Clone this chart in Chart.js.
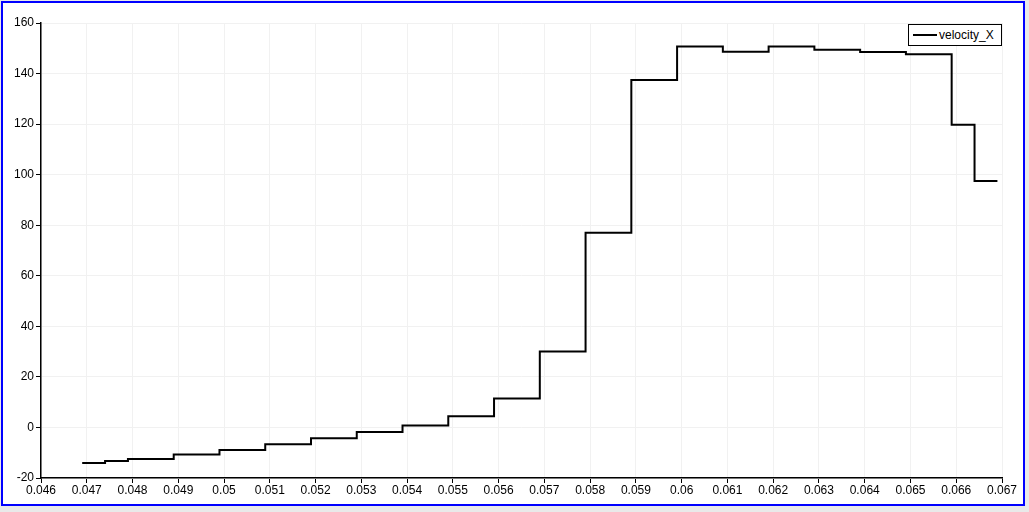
<!DOCTYPE html>
<html>
<head>
<meta charset="utf-8">
<script src="https://cdn.jsdelivr.net/npm/chart.js@4.4.1/dist/chart.umd.min.js"></script>
<style>
  html, body { margin: 0; padding: 0; }
  body { width: 1029px; height: 512px; background: #e9e9e9; position: relative; overflow: hidden; }
  #frame { position: absolute; left: 1px; top: 1px; width: 1020px; height: 501px; border: 2px solid #0000ff; background: #fff; }
  #wrap { position: absolute; left: 0; top: 0; width: 1029px; height: 512px; }
  #legend { position: absolute; left: 908px; top: 24px; width: 92px; height: 20px; border: 1px solid #000; background: #fff;
            font: 12px "Liberation Sans", Arial, sans-serif; color: #000; }
  #legend .swatch { position: absolute; left: 4px; top: 9px; width: 24px; height: 2px; background: #000; }
  #legend .txt { position: absolute; left: 30px; top: 3px; }
</style>
</head>
<body>
<div id="frame"></div>
<div id="wrap"><canvas id="myVelocityChart" width="1029" height="512"></canvas></div>
<div id="legend"><span class="swatch"></span><span class="txt" id="legendText"></span></div>
<script>
// data
const seriesLabel = 'velocity_X';
const stepX = [0.0469, 0.0474, 0.0479, 0.0489, 0.0499, 0.0509, 0.0519, 0.0529, 0.0539, 0.0549, 0.0559, 0.0569,
               0.0579, 0.0589, 0.0599, 0.0609, 0.0619, 0.0629, 0.0639, 0.0649, 0.0659, 0.0664, 0.0669];
const velocityX = [-14.1, -13.3, -12.5, -10.7, -8.9, -6.6, -4.3, -1.8, 0.8, 4.4, 11.5, 30.0,
                   77.0, 137.5, 150.7, 148.6, 150.7, 149.4, 148.5, 147.6, 119.7, 97.5, 97.5];
const xTicks = [0.046, 0.047, 0.048, 0.049, 0.05, 0.051, 0.052, 0.053, 0.054, 0.055, 0.056,
                0.057, 0.058, 0.059, 0.06, 0.061, 0.062, 0.063, 0.064, 0.065, 0.066, 0.067];
const yTicks = [-20, 0, 20, 40, 60, 80, 100, 120, 140, 160];

window.onload = function(){
  chartVelocity();
};

function chartVelocity(){
  const ctx = document.getElementById('myVelocityChart').getContext('2d');
  const points = stepX.map((x, i) => ({ x: x, y: velocityX[i] }));
  const tickFont = { family: '"Liberation Sans", Arial, sans-serif', size: 12 };

  new Chart(ctx, {
    type: 'line',
    data: {
      datasets: [{
        label: seriesLabel,
        data: points,
        stepped: 'before',
        borderColor: '#000',
        borderWidth: 2,
        pointRadius: 0,
        fill: false
      }]
    },
    options: {
      responsive: false,
      animation: false,
      layout: { padding: { left: 0, right: 27, top: 23, bottom: 0 } },
      plugins: {
        legend: { display: false },
        tooltip: { enabled: false }
      },
      scales: {
        x: {
          type: 'linear',
          min: xTicks[0],
          max: xTicks[xTicks.length - 1],
          afterBuildTicks: function(scale){ scale.ticks = xTicks.map(v => ({ value: v })); },
          afterFit: function(scale){ scale.height = 34; },
          grid: { color: '#f1f1f1', tickColor: '#000', tickLength: 5, lineWidth: 1 },
          border: { color: '#000', width: 1.5 },
          ticks: {
            color: '#000', font: tickFont, padding: 0, maxRotation: 0, autoSkip: false,
            callback: function(v){ return String(+v.toFixed(3)); }
          }
        },
        y: {
          min: yTicks[0],
          max: yTicks[yTicks.length - 1],
          afterBuildTicks: function(scale){ scale.ticks = yTicks.map(v => ({ value: v })); },
          afterFit: function(scale){ scale.width = 41; },
          grid: { color: '#f1f1f1', tickColor: '#000', tickLength: 5, lineWidth: 1 },
          border: { color: '#000', width: 1.5 },
          ticks: { color: '#000', font: tickFont, padding: 2 }
        }
      }
    }
  });

  document.getElementById('legendText').textContent = seriesLabel;
}
</script>
</body>
</html>
